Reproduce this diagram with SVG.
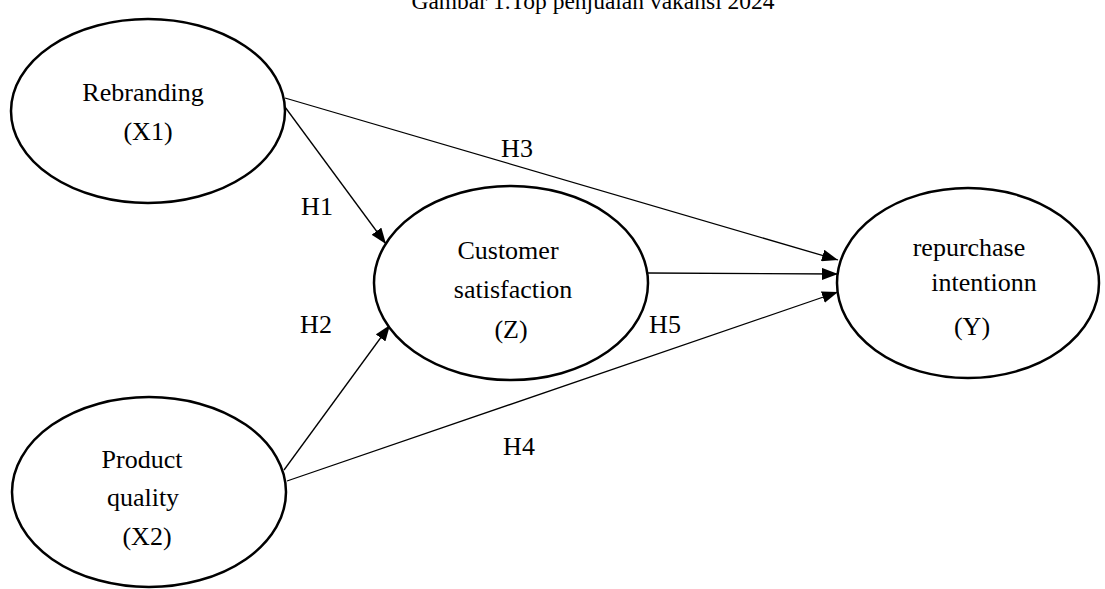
<svg xmlns="http://www.w3.org/2000/svg" width="1105" height="589" viewBox="0 0 1105 589">
<style>
.node ellipse{fill:#fff;stroke:#000;stroke-width:2.5}
text{font-family:"Liberation Serif","Times New Roman","DejaVu Serif",serif;font-size:26px;fill:#000;text-anchor:middle}
.title{font-size:23.5px}
.edge{stroke:#000;stroke-width:1.3;fill:none}
</style>
<defs>
<marker id="arr" viewBox="0 0 16 12" refX="16" refY="6" markerWidth="16" markerHeight="12" markerUnits="userSpaceOnUse" orient="auto">
<path d="M0,0 L16,6 L0,12 Z" fill="#000"/>
</marker>
</defs>
<rect width="1105" height="589" fill="#fff"/>
<text class="title" x="593" y="9">Gambar 1.Top penjualan vakansi 2024</text>
<g id="connectors">
<line class="edge" x1="285" y1="98" x2="838" y2="260" marker-end="url(#arr)"/>
<line class="edge" x1="285" y1="107" x2="386" y2="244" marker-end="url(#arr)"/>
<line class="edge" x1="648" y1="273" x2="838" y2="274" marker-end="url(#arr)"/>
<line class="edge" x1="287" y1="481" x2="838" y2="292" marker-end="url(#arr)"/>
<line class="edge" x1="284" y1="470" x2="390" y2="325" marker-end="url(#arr)"/>
</g>
<g id="labels">
<text x="317" y="215">H1</text>
<text x="316" y="333">H2</text>
<text x="517" y="157">H3</text>
<text x="519" y="455">H4</text>
<text x="665" y="333">H5</text>
</g>
<g id="rebranding" class="node">
<ellipse cx="148" cy="111" rx="137" ry="92"/>
<text x="143" y="101">Rebranding</text>
<text x="148" y="140">(X1)</text>
</g>
<g id="customer" class="node">
<ellipse cx="511" cy="283" rx="137" ry="97"/>
<text x="508" y="259">Customer</text>
<text x="513" y="298">satisfaction</text>
<text x="511" y="338">(Z)</text>
</g>
<g id="repurchase" class="node">
<ellipse cx="968" cy="283" rx="131" ry="95"/>
<text x="969" y="256">repurchase</text>
<text x="984" y="291">intentionn</text>
<text x="972" y="335">(Y)</text>
</g>
<g id="product" class="node">
<ellipse cx="149" cy="492" rx="137" ry="95"/>
<text x="142" y="468">Product</text>
<text x="143" y="506">quality</text>
<text x="147" y="545">(X2)</text>
</g>
</svg>
